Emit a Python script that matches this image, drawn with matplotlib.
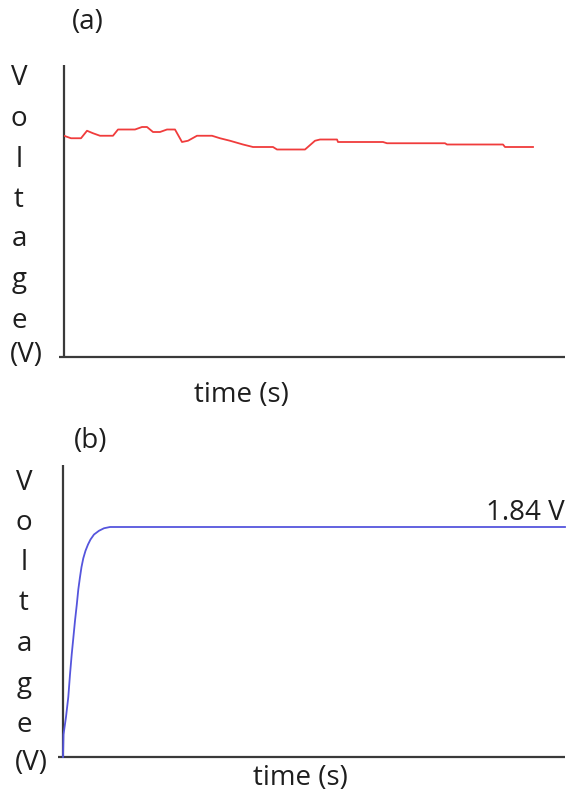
import numpy as np
import matplotlib.pyplot as plt

plt.rcParams['font.family'] = ['Open Sans', 'DejaVu Sans']

# panel (a): measured voltage, noisy but nearly flat
t_a = [0.00, 0.07, 0.17, 0.23, 0.29, 0.36, 0.49, 0.54, 0.71, 0.78, 0.83, 0.89,
       0.96, 1.03, 1.11, 1.18, 1.24, 1.33, 1.48, 1.56, 1.66, 1.79, 1.89, 2.09,
       2.13, 2.41, 2.51, 2.56, 2.73, 2.74, 3.19, 3.23, 3.81, 3.83, 4.39, 4.41, 4.69]
v_a = [1.77, 1.75, 1.75, 1.81, 1.79, 1.77, 1.77, 1.82, 1.82, 1.84, 1.84, 1.80,
       1.80, 1.82, 1.82, 1.72, 1.73, 1.77, 1.77, 1.75, 1.73, 1.70, 1.68, 1.68,
       1.66, 1.66, 1.73, 1.74, 1.74, 1.72, 1.72, 1.71, 1.71, 1.70, 1.70, 1.68, 1.68]

# panel (b): simulated step response settling at 1.84 V
t_b = [0.00, 0.005, 0.03, 0.053, 0.07, 0.087, 0.103, 0.12, 0.138, 0.153, 0.17,
       0.185, 0.203, 0.225, 0.25, 0.275, 0.31, 0.36, 0.41, 0.47, 5.02]
v_b = [0.00, 0.18, 0.32, 0.48, 0.66, 0.82, 0.95, 1.09, 1.22, 1.34, 1.44,
       1.52, 1.59, 1.65, 1.70, 1.74, 1.78, 1.81, 1.83, 1.84, 1.84]

ylab = ['V', 'o', 'l', 't', 'a', 'g', 'e', '(V)']

W, H = 567, 797
fig = plt.figure(figsize=(W / 100, H / 100), dpi=100)
ink = '#1e1e1e'
fs = 20


def frame(left, top, bottom, right):
    ax = fig.add_axes([left / W, 1 - bottom / H, (right - left) / W, (bottom - top) / H])
    for s in ax.spines.values():
        s.set_visible(False)
    ax.set_xticks([])
    ax.set_yticks([])
    ax.patch.set_alpha(0)
    # axis lines, bottom one sticks out a bit to the left
    ax.plot([0, 0], [0, 1], transform=ax.transAxes, color='#3a3a3a', lw=1.6,
            clip_on=False, solid_capstyle='butt')
    ax.plot([-5 / (right - left), 1], [0, 0], transform=ax.transAxes,
            color='#3a3a3a', lw=1.6, clip_on=False, solid_capstyle='butt')
    return ax


# (a)
ax1 = frame(64, 65, 357, 565)
ax1.plot(t_a, v_a, color='#f03c3c', lw=1.3)
ax1.set_xlim(0, 5.01)
ax1.set_ylim(0, 292 / 125)

# (b)
ax2 = frame(63, 465, 757, 565)
ax2.plot(t_b, v_b, color='#5555dd', lw=1.3, clip_on=False)
ax2.set_xlim(0, 5.02)
ax2.set_ylim(0, 292 / 125)
ax2.annotate('1.84 V', xy=(1.0, 1.84), xycoords=ax2.get_yaxis_transform(),
             xytext=(0, 7), textcoords='offset pixels', ha='right', va='baseline',
             fontsize=fs, color=ink)

fig.text(88 / W, 1 - 22 / H, '(a)', ha='center', va='center', fontsize=fs, color=ink)
fig.text(91 / W, 1 - 441 / H, '(b)', ha='center', va='center', fontsize=fs, color=ink)
fig.text(241 / W, 1 - 395 / H, 'time (s)', ha='center', va='center', fontsize=fs, color=ink)
fig.text(300 / W, 1 - 778 / H, 'time (s)', ha='center', va='center', fontsize=fs, color=ink)

# vertical "Voltage (V)" stacks, one letter per line (baselines in px)
ya = [85, 126, 167, 207, 246, 287, 328, 362]
yb = [490, 530, 570, 610, 651, 692, 732, 770]
for s, y in zip(ylab, ya):
    if s == '(V)':
        fig.text(10 / W, 1 - y / H, s, ha='left', va='baseline', fontsize=fs, color=ink)
    else:
        fig.text(19 / W, 1 - y / H, s, ha='center', va='baseline', fontsize=fs, color=ink)
for s, y in zip(ylab, yb):
    if s == '(V)':
        fig.text(15 / W, 1 - y / H, s, ha='left', va='baseline', fontsize=fs, color=ink)
    else:
        fig.text(24 / W, 1 - y / H, s, ha='center', va='baseline', fontsize=fs, color=ink)

fig.savefig('out.png', dpi=100)
